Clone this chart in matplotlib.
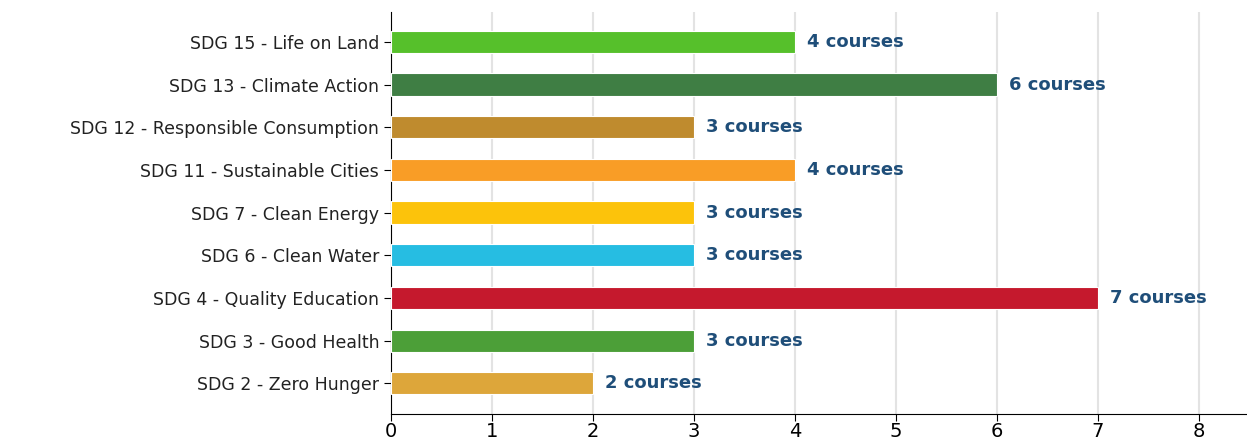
import matplotlib
matplotlib.use("Agg")
import matplotlib.pyplot as plt

# SDG course counts (bottom to top as drawn)
sdg_labels = [
    "SDG 2 - Zero Hunger",
    "SDG 3 - Good Health",
    "SDG 4 - Quality Education",
    "SDG 6 - Clean Water",
    "SDG 7 - Clean Energy",
    "SDG 11 - Sustainable Cities",
    "SDG 12 - Responsible Consumption",
    "SDG 13 - Climate Action",
    "SDG 15 - Life on Land",
]
course_counts = [2, 3, 7, 3, 3, 4, 3, 6, 4]
sdg_colors = [
    "#DDA63A", "#4C9F38", "#C5192D", "#26BDE2", "#FCC30B",
    "#F99D26", "#BF8B2E", "#3F7E44", "#56C02B",
]

fig = plt.figure(figsize=(12.47, 4.41), dpi=100)
ax = fig.add_axes([391 / 1247, 27 / 441, 1 - 391 / 1247, 402 / 441])

y = range(len(sdg_labels))
ax.barh(y, course_counts, height=0.52, color=sdg_colors, edgecolor="white", linewidth=0.8, zorder=3)

for i, v in enumerate(course_counts):
    ax.text(v + 0.12, i, f"{v} courses", va="center", ha="left",
            fontsize=13, fontweight="bold", color="#1F4E79", zorder=4)

ax.set_yticks(list(y))
ax.set_yticklabels(sdg_labels, fontsize=12.5, color="#222222")
ax.set_xticks(range(0, 9))
ax.tick_params(axis="x", labelsize=14, length=5, pad=1)
ax.tick_params(axis="y", length=5)
ax.set_xlim(0, 8.48)
ax.set_ylim(-0.72, 8.7)

ax.grid(axis="x", color="#e3e3e3", linewidth=1.5, zorder=0)
ax.set_axisbelow(True)
for side in ["top", "right"]:
    ax.spines[side].set_visible(False)
ax.spines["left"].set_color("black")
ax.spines["bottom"].set_color("black")

fig.savefig("out.png", dpi=100)
